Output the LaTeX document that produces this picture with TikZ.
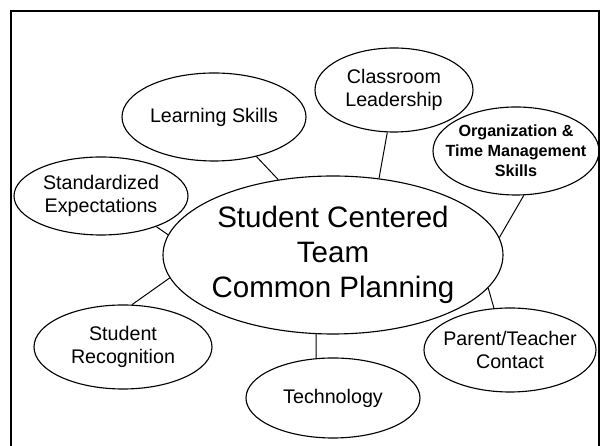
\documentclass[tikz,border=0pt]{standalone}
\usepackage{fontspec}
\setmainfont{Liberation Sans}
\usepackage{tikz}
\usetikzlibrary{shapes,arrows,positioning}
\tikzset{topic-line/.style={line width=0.7pt}}
\tikzset{topic-node/.style={draw, ellipse, line width=0.8pt, inner sep=-3mm, align=center,
    font=\fontsize{14pt}{16.4pt}\selectfont}}
\tikzset{hub-node/.style={topic-node, minimum width=8.5cm, minimum height=3.95cm,
    font=\fontsize{21pt}{24.9pt}\selectfont}}
\tikzset{bold-node/.style={topic-node, font=\bfseries\fontsize{11.5pt}{14.2pt}\selectfont}}
\tikzset{frame-box/.style={draw, line width=1.6pt}}

\begin{document}
\begin{tikzpicture}[]
    \useasboundingbox (0,0) rectangle (15,11.15);
    \draw[frame-box] (0.28,10.87) rectangle (14.99,-0.3);

    \node[hub-node] (hub) at (8.325,4.775) {Student Centered\\Team\\Common Planning};

    \node[topic-node, minimum width=4.6cm, minimum height=2.2cm] (learning) at (5.35,8.225) {Learning Skills};
    \node[topic-node, minimum width=3.95cm, minimum height=2.1cm] (classroom) at (9.85,8.9) {Classroom\\Leadership};
    \node[bold-node, minimum width=4.15cm, minimum height=2.2cm] (organization) at (12.9,7.375) {Organization \&\\Time Management\\Skills};
    \node[topic-node, minimum width=4.35cm, minimum height=1.95cm] (standardized) at (2.525,6.25) {Standardized\\Expectations};
    \node[topic-node, minimum width=4.45cm, minimum height=2.1cm] (recognition) at (3.075,2.475) {Student\\Recognition};
    \node[topic-node, minimum width=4.35cm, minimum height=2cm] (technology) at (8.325,1.2) {Technology};
    \node[topic-node, minimum width=4.3cm, minimum height=2.1cm] (parent) at (12.75,2.4) {Parent/Teacher\\Contact};

    \draw[topic-line] (learning.-43) -- (hub.126.7);
    \draw[topic-line] (classroom.-99) -- (hub.59.7);
    \draw[topic-line] (organization.-80) -- (hub.6.9);
    \draw[topic-line] (standardized.-29.7) -- (hub.173);
    \draw[topic-line] (recognition.78) -- (hub.-172);
    \draw[topic-line] (technology.113.6) -- (hub.-102);
    \draw[topic-line] (parent.111) -- (hub.-12.4);
\end{tikzpicture}
\end{document}
